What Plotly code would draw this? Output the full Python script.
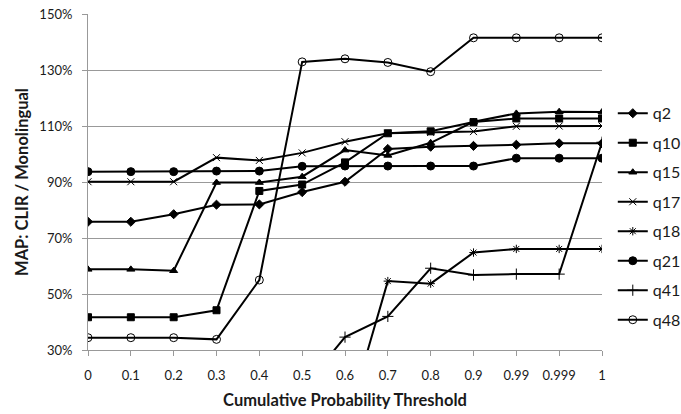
import plotly.graph_objects as go

thresholds = ["0", "0.1", "0.2", "0.3", "0.4", "0.5", "0.6", "0.7", "0.8", "0.9", "0.99", "0.999", "1"]

q2 = [75.8, 75.8, 78.5, 81.9, 82.0, 86.4, 90.1, 101.8, 102.6, 102.9, 103.3, 103.8, 103.8]
q10 = [41.7, 41.7, 41.7, 44.2, 86.8, 89.1, 97.0, 107.4, 108.1, 111.4, 112.7, 112.7, 112.7]
q15 = [58.8, 58.8, 58.3, 89.8, 89.8, 91.9, 101.4, 99.5, 104.0, 111.5, 114.5, 115.1, 115.0]
q17 = [90.1, 90.1, 90.1, 98.7, 97.7, 100.4, 104.4, 107.4, 107.7, 108.0, 109.9, 110.0, 110.0]
q18 = [2.0, 2.0, 2.0, 2.0, 2.0, 2.0, 2.0, 54.6, 53.7, 64.8, 66.1, 66.1, 66.1]
q21 = [93.7, 93.7, 93.7, 93.9, 93.9, 95.6, 95.7, 95.7, 95.7, 95.7, 98.5, 98.5, 98.5]
q41 = [16.0, 16.0, 16.0, 16.0, 16.0, 16.0, 34.6, 42.0, 59.2, 56.8, 57.1, 57.1, 104.2]
q48 = [34.4, 34.4, 34.4, 33.8, 55.0, 132.9, 134.0, 132.7, 129.4, 141.5, 141.5, 141.5, 141.5]

series = [
    ("q2", q2, "diamond", 7),
    ("q10", q10, "square", 7),
    ("q15", q15, "triangle-up", 7),
    ("q17", q17, "x-thin-open", 7),
    ("q18", q18, "asterisk-open", 7),
    ("q21", q21, "circle", 8),
    ("q41", q41, "cross-thin-open", 8),
    ("q48", q48, "circle-open", 8),
]

fig = go.Figure()
for name, vals, sym, size in series:
    fig.add_trace(go.Scatter(
        x=thresholds, y=vals, name=name, mode="lines+markers",
        legendgroup=name,
        line=dict(color="black", width=2),
        marker=dict(symbol=sym, size=size, color="black",
                    line=dict(color="black", width=1)),
    ))

fig.update_layout(
    width=681, height=414,
    margin=dict(l=88, r=79, t=14, b=64, autoexpand=False),
    paper_bgcolor="white", plot_bgcolor="white",
    font=dict(family="Lato, 'Open Sans', sans-serif", size=13, color="#1a1a1a"),
    legend=dict(x=1.021, y=0.755, xanchor="left", yanchor="top",
                font=dict(size=16), tracegroupgap=5.7, itemwidth=30,
                bgcolor="rgba(0,0,0,0)"),
    xaxis=dict(
        type="category", range=[0, 12],
        showgrid=False, showline=True, linecolor="#999", linewidth=1,
        ticks="outside", ticklen=5, tickcolor="#999", ticklabelstandoff=8,
        tickfont=dict(size=13),
        title=dict(text="<b>Cumulative Probability Threshold</b>", font=dict(size=16.5), standoff=12),
    ),
    yaxis=dict(
        range=[30, 150], dtick=20, tick0=30, ticksuffix="%",
        showgrid=True, gridcolor="#999", gridwidth=1,
        showline=True, linecolor="#999", linewidth=1,
        ticks="outside", ticklen=5, tickcolor="#999", ticklabelstandoff=7,
        zeroline=False, tickfont=dict(size=13),
        title=dict(text="<b>MAP: CLIR / Monolingual</b>", font=dict(size=16.5), standoff=6),
    ),
)

# remove the browser's default 8px body margin so the figure fills the window
fig.write_html("out.html", config={"displayModeBar": False},
               post_script="document.body.style.margin='0';")
